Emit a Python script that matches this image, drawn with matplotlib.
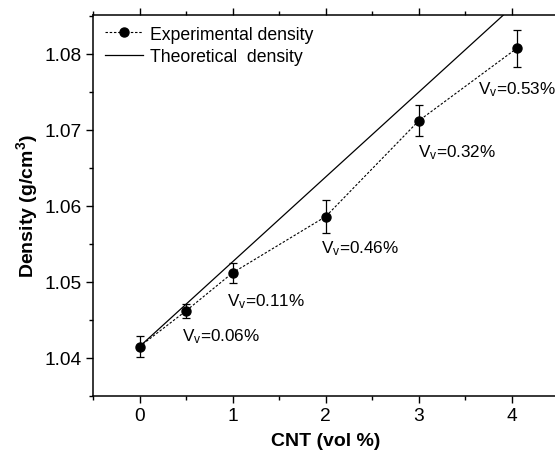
import matplotlib
matplotlib.use("Agg")
import matplotlib.pyplot as plt
from matplotlib.ticker import MultipleLocator, FormatStrFormatter

plt.rcParams['font.family'] = ['Liberation Sans', 'DejaVu Sans']
plt.rcParams['mathtext.fontset'] = 'custom'
plt.rcParams['mathtext.rm'] = 'Liberation Sans'
plt.rcParams['mathtext.it'] = 'Liberation Sans'
plt.rcParams['mathtext.bf'] = 'Liberation Sans:bold'

# Data
cnt_exp = [0, 0.5, 1, 2, 3, 4.05]
density_exp = [1.0415, 1.0462, 1.0512, 1.0586, 1.0712, 1.0807]
density_err = [0.0014, 0.0009, 0.0013, 0.0022, 0.0020, 0.0024]
cnt_theo = [0, 4.5]
density_theo = [1.0415, 1.0917]
vv_labels = ['0.06%', '0.11%', '0.46%', '0.32%', '0.53%']
vv_x = [0.46, 0.94, 1.95, 2.99, 3.63]
vv_y = [1.0429, 1.0476, 1.0545, 1.0671, 1.0754]

fig = plt.figure(figsize=(5.55, 4.52), dpi=100)
ax = fig.add_axes([0.1676, 0.1217, 1.0063 - 0.1676, 0.9646 - 0.1217])

exp_line, = ax.plot(cnt_exp, density_exp, 'o', color='black',
                    linestyle=(0, (2.2, 1.6)), linewidth=0.8, markersize=6.5,
                    label='Experimental density')
ax.errorbar(cnt_exp, density_exp, yerr=density_err, fmt='none', ecolor='black',
            capsize=2.8, elinewidth=0.9, capthick=0.9)
theo_line, = ax.plot(cnt_theo, density_theo, color='black', linewidth=0.9,
                     label='Theoretical  density')

for lab, x, y in zip(vv_labels, vv_x, vv_y):
    ax.text(x, y, r'V$_\mathregular{v}$=' + lab, ha='left', va='center', fontsize=12.3)

ax.set_xlim(-0.5, 4.5)
ax.set_ylim(1.035, 1.0851)
ax.xaxis.set_major_locator(MultipleLocator(1))
ax.xaxis.set_minor_locator(MultipleLocator(0.5))
ax.yaxis.set_major_locator(MultipleLocator(0.01))
ax.yaxis.set_minor_locator(MultipleLocator(0.005))
ax.yaxis.set_major_formatter(FormatStrFormatter('%.2f'))
ax.tick_params(which='major', direction='out', length=5, width=1, labelsize=13.8, pad=3)
ax.tick_params(which='minor', direction='out', length=3, width=1)
ax.tick_params(axis='x', which='both', top=True)
for s in ax.spines.values():
    s.set_linewidth(1.1)

ax.set_xlabel('CNT (vol %)', fontsize=14, fontweight='bold', labelpad=6)
ax.set_ylabel(r'Density (g/cm$^\mathbf{3}$)', fontsize=14, fontweight='bold', labelpad=3)

ax.legend(handles=[exp_line, theo_line], loc='upper left', bbox_to_anchor=(0.004, 1.0),
          frameon=False, fontsize=12.7, handlelength=2.15, handletextpad=0.4,
          labelspacing=0.32, borderaxespad=0.3, borderpad=0.3)

fig.savefig('out.png', dpi=100)
